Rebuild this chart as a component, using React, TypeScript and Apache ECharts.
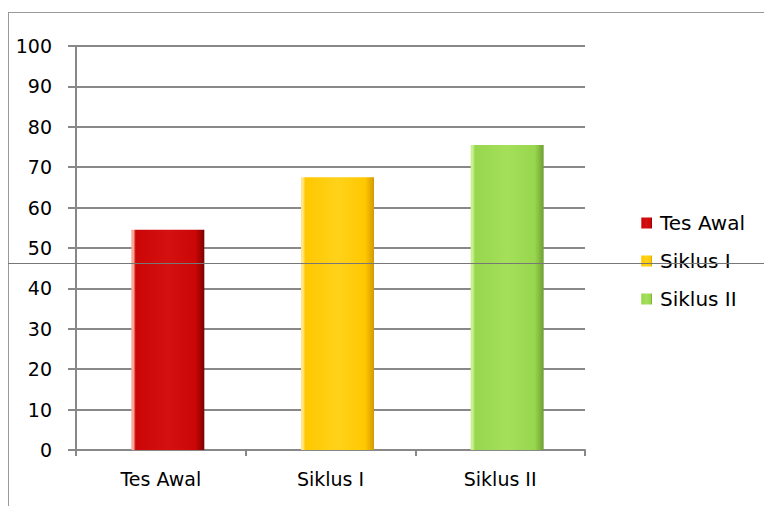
import React, { useEffect, useRef } from "react";
import * as echarts from "echarts";

const categories = ["Tes Awal", "Siklus I", "Siklus II"];
const seriesNames = ["Tes Awal", "Siklus I", "Siklus II"];
const seriesValues = [54.5, 67.5, 75.5];
const yTicks = [0, 10, 20, 30, 40, 50, 60, 70, 80, 90, 100];

const palettes = [
  { edgeL: "#f7a898", body: "#cc0606", hi: "#d41010", edgeR: "#7d0000" },
  { edgeL: "#ffe488", body: "#ffc800", hi: "#ffd21a", edgeR: "#d49a00" },
  { edgeL: "#c8f090", body: "#98d64e", hi: "#a4e05a", edgeR: "#6fa032" },
];

function grad(p: any) {
  return new echarts.graphic.LinearGradient(0, 0, 1, 0, [
    { offset: 0, color: p.edgeL },
    { offset: 0.03, color: p.edgeL },
    { offset: 0.06, color: p.body },
    { offset: 0.5, color: p.hi },
    { offset: 0.88, color: p.body },
    { offset: 1, color: p.edgeR },
  ]);
}

export default function App() {
  const ref = useRef<HTMLDivElement>(null);
  useEffect(() => {
    const chart = echarts.init(ref.current!, null, { renderer: "svg" });
    const font = "DejaVu Sans";
    const bars: any[] = seriesNames.map((name, i) => ({
      name,
      type: "bar",
      stack: "all",
      barWidth: 73,
      barGap: 0,
      data: categories.map((_, j) => (j === i ? seriesValues[i] : "-")),
      itemStyle: { color: grad(palettes[i]) },
    }));
    const spacer = {
      name: "spacer",
      type: "bar",
      stack: "spacer",
      barWidth: 14,
      barGap: 0,
      data: categories.map(() => "-"),
      itemStyle: { color: "transparent" },
      silent: true,
    };
    chart.setOption({
      animation: false,
      textStyle: { fontFamily: font },
      grid: { left: 76, right: 179, top: 46, bottom: 56 },
      legend: {
        orient: "vertical",
        left: 636,
        top: 208,
        icon: "rect",
        itemWidth: 11,
        itemHeight: 11,
        itemGap: 18,
        data: seriesNames,
        textStyle: { fontFamily: font, fontSize: 20, color: "#000", padding: [0, 0, 0, 3] },
      },
      xAxis: {
        type: "category",
        data: categories,
        boundaryGap: true,
        axisLine: { lineStyle: { color: "#888", width: 2 } },
        axisTick: { show: true, length: 6, alignWithLabel: false, lineStyle: { color: "#888", width: 2 } },
        axisLabel: { margin: 19, fontSize: 19, color: "#000", fontFamily: font },
      },
      yAxis: {
        type: "value",
        min: 0,
        max: 100,
        interval: 10,
        axisLine: { show: true, lineStyle: { color: "#888", width: 2 } },
        axisTick: { show: true, length: 8, lineStyle: { color: "#888", width: 2 } },
        axisLabel: { margin: 24, fontSize: 19, color: "#000", fontFamily: font,
          formatter: (v: number) => (yTicks.includes(v) ? String(v) : "") },
        splitLine: { show: true, lineStyle: { color: "#888", width: 2 } },
      },
      series: [spacer, ...bars],
      graphic: [
        { type: "line", shape: { x1: 8.5, y1: 12, x2: 8.5, y2: 506 }, style: { stroke: "#999", lineWidth: 1 }, z: 100 },
        { type: "line", shape: { x1: 8, y1: 12.5, x2: 764, y2: 12.5 }, style: { stroke: "#999", lineWidth: 1 }, z: 100 },
        { type: "line", shape: { x1: 8, y1: 263.5, x2: 764, y2: 263.5 }, style: { stroke: "#777", lineWidth: 1 }, z: 100 },
      ],
    });
    return () => chart.dispose();
  }, []);
  return (
    <div
      ref={ref}
      style={{ position: "fixed", left: 0, top: 0, width: 764, height: 506, background: "#fff" }}
    />
  );
}
